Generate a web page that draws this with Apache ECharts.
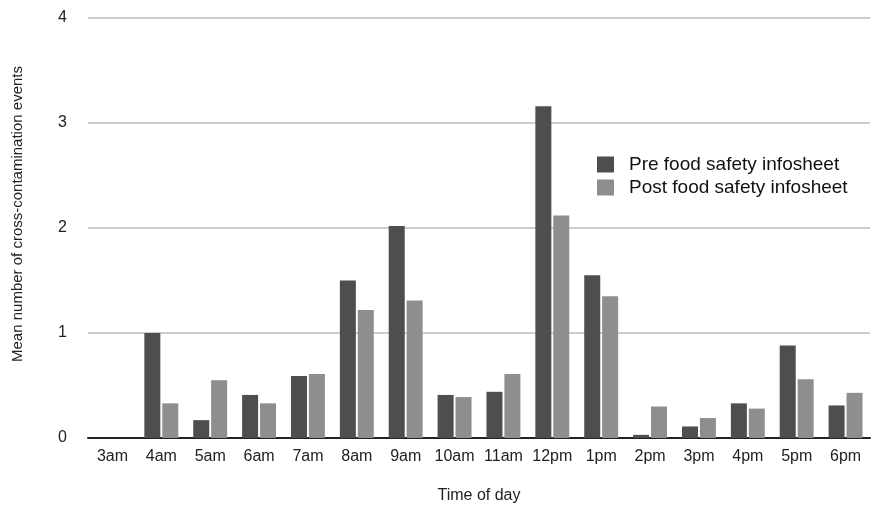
<!DOCTYPE html>
<html><head><meta charset="utf-8">
<script src="https://cdn.jsdelivr.net/npm/echarts@6/dist/echarts.min.js"></script>
<style>html,body{margin:0;padding:0;background:#fff}#c{width:873px;height:506px}</style>
</head><body><div id="c"></div>
<script>
const categories = ['3am','4am','5am','6am','7am','8am','9am','10am','11am','12pm','1pm','2pm','3pm','4pm','5pm','6pm'];
const preValues  = [0, 1.00, 0.17, 0.41, 0.59, 1.50, 2.02, 0.41, 0.44, 3.16, 1.55, 0.03, 0.11, 0.33, 0.88, 0.31];
const postValues = [0, 0.33, 0.55, 0.33, 0.61, 1.22, 1.31, 0.39, 0.61, 2.12, 1.35, 0.30, 0.19, 0.28, 0.56, 0.43];
const yTicks = [0, 1, 2, 3, 4];
const seriesNames = ['Pre food safety infosheet', 'Post food safety infosheet'];

const chart = echarts.init(document.getElementById('c'), null, {renderer: 'canvas'});
const font = 'Helvetica, Arial, "Liberation Sans", sans-serif';
chart.setOption({
  backgroundColor: '#fff',
  animation: false,
  textStyle: {fontFamily: font},
  grid: {left: 88, right: 3, top: 18, bottom: 68, containLabel: false, outerBoundsMode: 'none'},
  legend: {
    orient: 'vertical', left: 597, top: 155, padding: 0,
    itemWidth: 17, itemHeight: 16, itemGap: 4,
    icon: 'rect',
    textStyle: {fontSize: 19, lineHeight: 16, color: '#111', fontFamily: font, padding: [0, 0, 0, 10]},
    data: seriesNames
  },
  xAxis: {
    type: 'category', data: categories,
    name: 'Time of day', nameLocation: 'middle', nameGap: 50,
    nameTextStyle: {fontSize: 16, color: '#222', fontFamily: font},
    axisLine: {show: true, lineStyle: {color: '#222', width: 2}},
    axisTick: {show: false},
    axisLabel: {fontSize: 16, color: '#222', margin: 11, fontFamily: font, interval: 0, hideOverlap: false}
  },
  yAxis: {
    type: 'value', min: yTicks[0], max: yTicks[yTicks.length-1], interval: 1,
    name: 'Mean number of cross-contamination events', nameLocation: 'middle', nameGap: 63,
    nameRotate: 90,
    nameTextStyle: {fontSize: 15, color: '#222', fontFamily: font, padding: [0, 0, 0, 28]},
    axisLine: {show: false}, axisTick: {show: false},
    axisLabel: {fontSize: 16, color: '#222', margin: 21, fontFamily: font},
    splitLine: {lineStyle: {color: '#bdbdbd', width: 1.5}}
  },
  series: [
    {name: seriesNames[0], type: 'bar', data: preValues, barWidth: 16, barGap: '12%',
     itemStyle: {color: '#4e4e4e'}},
    {name: seriesNames[1], type: 'bar', data: postValues, barWidth: 16, barGap: '12%',
     itemStyle: {color: '#8e8e8e'}}
  ]
});
</script></body></html>
